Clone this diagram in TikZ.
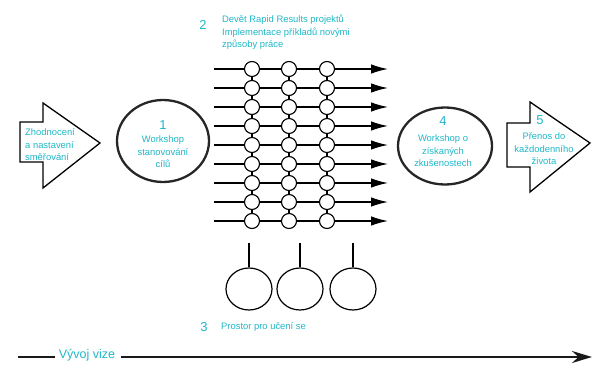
\documentclass[tikz,border=0pt]{standalone}
\usepackage{fontspec}
\setmainfont{Liberation Sans}
\usetikzlibrary{arrows.meta,shapes.geometric}
\definecolor{tcyan}{RGB}{30,183,200}
\begin{document}
\begin{tikzpicture}[x=1pt,y=-1pt,
  lbl/.style={text=tcyan, font=\fontsize{9.4}{12.5}\selectfont, inner sep=0pt},
  numlbl/.style={text=tcyan, font=\fontsize{13}{13}\selectfont, inner sep=0pt},
  knot/.style={circle, draw, fill=white, line width=1.1pt, minimum size=15pt, inner sep=0pt},
  wire/.style={line width=1.3pt},
  bigell/.style={ellipse, draw=black!85, line width=2.3pt, inner sep=0pt},
  smallell/.style={ellipse, draw, line width=1.2pt, inner sep=0pt},
  bigarrow/.style={draw, line width=1.3pt, line join=miter},
  stem/.style={line width=1.3pt}
]
\useasboundingbox (0,0) rectangle (605,380);

% left arrow
\draw[bigarrow] (20,122) -- (43,122) -- (43,103) -- (100,143) -- (43,188) -- (43,162) -- (20,162) -- cycle;
\node[lbl, align=left, anchor=west] (t0) at (25,145) {Zhodnocení\\a nastavení\\směřování};

% circle 1
\node[bigell, minimum width=92pt, minimum height=82pt] (e1) at (163,141) {};
\node[numlbl] (n1) at (163,125) {1};
\node[lbl, align=center] (t1) at (163,152) {Workshop\\stanovování\\cílů};

% top label
\node[numlbl] (n2) at (203,25) {2};
\node[lbl, align=left, anchor=north west] (t2) at (222,15) {Devět Rapid Results projektů\\Implementace příkladů novými\\způsoby práce};

% grid
\foreach \i in {0,...,8}{
  \pgfmathsetmacro{\yy}{69+19*\i}
  \coordinate (s\i) at (214,\yy);
  \coordinate (f\i) at (388,\yy);
  \node[knot] (k\i a) at (252,\yy) {};
  \node[knot] (k\i b) at (289,\yy) {};
  \node[knot] (k\i c) at (327,\yy) {};
  \draw[wire] (s\i) -- (k\i a);
  \draw[wire] (k\i a) -- (k\i b);
  \draw[wire] (k\i b) -- (k\i c);
  \draw[wire, -{Latex[length=17pt,width=9.5pt]}] (k\i c) -- (f\i);
}
\foreach \i [evaluate=\i as \j using int(\i+1)] in {0,...,7}{
  \draw[wire] (k\i a) -- (k\j a);
  \draw[wire] (k\i b) -- (k\j b);
  \draw[wire] (k\i c) -- (k\j c);
}

% circle 4
\node[bigell, minimum width=94pt, minimum height=77pt] (e4) at (445,146) {};
\node[numlbl] (n4) at (443,121) {4};
\node[lbl, align=center] (t4) at (443,151) {Workshop o\\získaných\\zkušenostech};

% right arrow
\draw[bigarrow] (507,123) -- (530,123) -- (530,102) -- (590,143) -- (530,192) -- (530,167) -- (507,167) -- cycle;
\node[numlbl] (n5) at (540,120) {5};
\node[lbl, align=center] (t5) at (544,149) {Přenos do\\každodenního\\života};

% bottom circles
\foreach \n/\x in {a/249,b/300,c/353}{
  \coordinate (top\n) at (\x,243);
  \node[smallell, minimum width=46pt, minimum height=42pt] (b\n) at (\x,289) {};
  \draw[stem] (top\n) -- (b\n);
}
\node[numlbl] (n3) at (204,327) {3};
\node[lbl, anchor=west] (t3) at (221,327) {Prostor pro učení se};

% bottom arrow
\coordinate (v0) at (18,357);
\coordinate (v1) at (55,357);
\coordinate (v2) at (121,357);
\coordinate (v3) at (592,357);
\node[text=tcyan, font=\fontsize{12.5}{12.5}\selectfont, inner sep=0pt] (vv) at (87,355) {Vývoj vize};
\draw[line width=2.2pt, black!90] (v0) -- (v1);
\draw[line width=2.2pt, black!90, -{Stealth[length=20pt,width=12pt]}] (v2) -- (v3);
\end{tikzpicture}
\end{document}
